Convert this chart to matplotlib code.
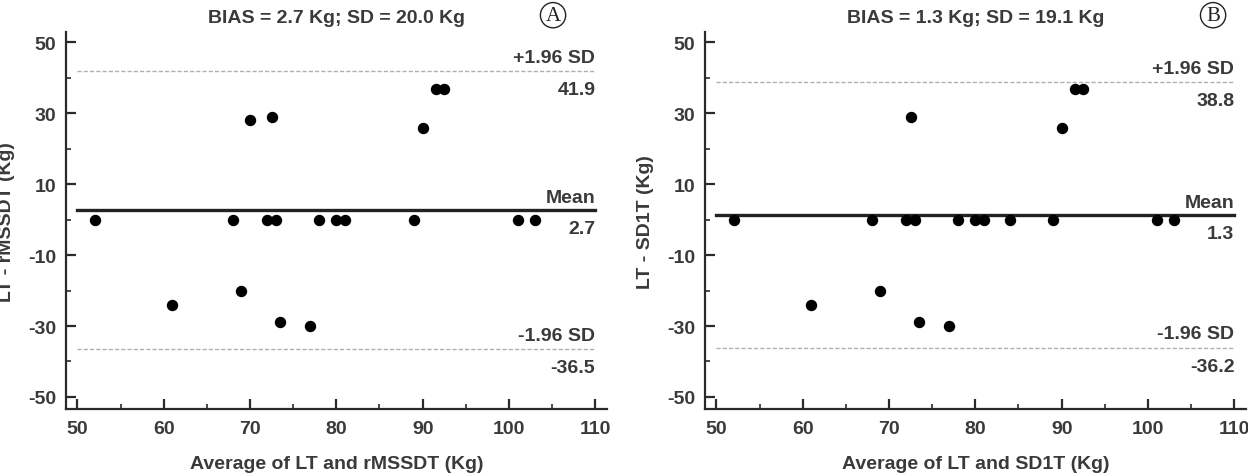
import matplotlib
matplotlib.use("Agg")
import matplotlib.pyplot as plt
from matplotlib.ticker import MultipleLocator

# panel A: LT vs rMSSDT
avg_a = [52, 68, 72, 73, 78, 80, 81, 89, 101, 103,
         70, 72.5, 90, 91.5, 92.5,
         61, 69, 73.5, 77]
diff_a = [0, 0, 0, 0, 0, 0, 0, 0, 0, 0,
          28, 29, 26, 37, 37,
          -24, -20, -29, -30]
bias_a, upper_a, lower_a, sd_a = 2.7, 41.9, -36.5, 20.0

# panel B: LT vs SD1T
avg_b = [52, 68, 72, 73, 78, 80, 81, 84, 89, 101, 103,
         72.5, 90, 91.5, 92.5,
         61, 69, 73.5, 77]
diff_b = [0, 0, 0, 0, 0, 0, 0, 0, 0, 0, 0,
          29, 26, 37, 37,
          -24, -20, -29, -30]
bias_b, upper_b, lower_b, sd_b = 1.3, 38.8, -36.2, 19.1

panels = [
    ("A", avg_a, diff_a, bias_a, upper_a, lower_a, sd_a,
     "Average of LT and rMSSDT (Kg)", "LT - rMSSDT (Kg)"),
    ("B", avg_b, diff_b, bias_b, upper_b, lower_b, sd_b,
     "Average of LT and SD1T (Kg)", "LT - SD1T (Kg)"),
]

plt.rcParams['font.family'] = ['Liberation Sans', 'DejaVu Sans']
plt.rcParams['font.weight'] = 'bold'
plt.rcParams['axes.unicode_minus'] = False
txt_col = "#3a3a3a"
fs = 14

fig = plt.figure(figsize=(12.48, 4.77), dpi=100)
lefts = [0.053, 0.565]

for left, (tag, x, y, bias, up, lo, sd, xlab, ylab) in zip(lefts, panels):
    ax = fig.add_axes([left, 0.1405, 0.433, 0.79])
    ax.plot(x, y, "o", color="black", ms=7.2, zorder=3)

    ax.plot([50, 110], [bias, bias], "-", color="#222222", lw=2.4)
    ax.plot([50, 110], [up, up], "--", color="#b0b0b0", lw=1, dashes=(3, 1.5))
    ax.plot([50, 110], [lo, lo], "--", color="#b0b0b0", lw=1, dashes=(3, 1.5))

    kw = dict(ha="right", fontsize=fs, fontweight="bold", color=txt_col,
              textcoords="offset points")
    ax.annotate("+1.96 SD", (110, up), xytext=(0, 4), va="bottom", **kw)
    ax.annotate(f"{up:.1f}", (110, up), xytext=(0, -7), va="top", **kw)
    ax.annotate("Mean", (110, bias), xytext=(0, 3), va="bottom", **kw)
    ax.annotate(f"{bias:.1f}", (110, bias), xytext=(0, -7), va="top", **kw)
    ax.annotate("-1.96 SD", (110, lo), xytext=(0, 4), va="bottom", **kw)
    ax.annotate(f"{lo:.1f}", (110, lo), xytext=(0, -7), va="top", **kw)

    ax.set_xlim(48.7, 111.3)
    ax.set_ylim(-53.4, 52.9)
    ax.xaxis.set_major_locator(MultipleLocator(10))
    ax.xaxis.set_minor_locator(MultipleLocator(5))
    ax.set_yticks([50, 30, 10, -10, -30, -50])
    ax.yaxis.set_minor_locator(MultipleLocator(10))

    for s in ["top", "right"]:
        ax.spines[s].set_visible(False)
    for s in ["left", "bottom"]:
        ax.spines[s].set_linewidth(1.6)
        ax.spines[s].set_color("#2a2a2a")
    ax.tick_params(which="major", direction="in", length=7, width=1.6,
                   color="#2a2a2a", labelsize=fs, labelcolor=txt_col)
    ax.tick_params(which="minor", direction="in", length=3.5, width=1.2,
                   color="#2a2a2a")
    ax.tick_params(axis="y", pad=7)
    ax.tick_params(axis="x", pad=8)
    for lab in ax.get_xticklabels() + ax.get_yticklabels():
        lab.set_fontweight("bold")

    ax.set_xlabel(xlab, fontsize=fs, fontweight="bold", color=txt_col)
    ax.xaxis.set_label_coords(0.5, -0.122)
    ax.set_ylabel(ylab, fontsize=fs, fontweight="bold", color=txt_col)
    ax.yaxis.set_label_coords(-0.095, 0.5)
    ax.set_title(f"BIAS = {bias:.1f} Kg; SD = {sd:.1f} Kg", fontsize=fs,
                 fontweight="bold", color=txt_col, pad=7)

    ax.text(0.94 if tag == "B" else 0.901, 1.045, tag, transform=ax.transAxes,
            ha="center", va="center", fontsize=15, family="Liberation Serif",
            fontweight="normal", color="#222222",
            bbox=dict(boxstyle="circle,pad=0.15", fc="white", ec="#222222", lw=1))

fig.savefig("out.png", dpi=100)
